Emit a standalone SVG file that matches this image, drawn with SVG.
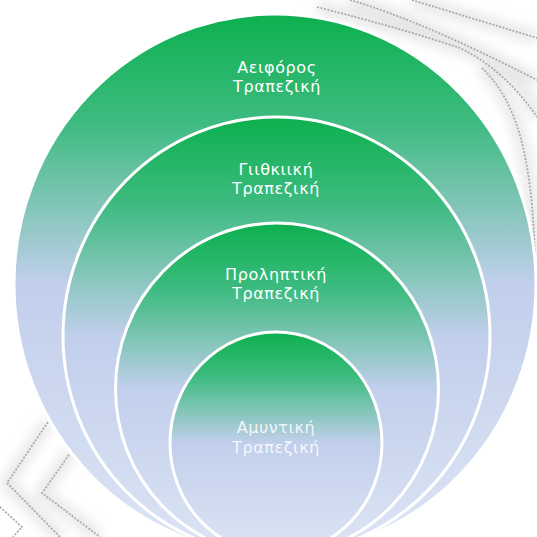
<svg xmlns="http://www.w3.org/2000/svg" width="537" height="537" viewBox="0 0 537 537">
  <defs>
    <linearGradient id="ringFill" x1="0" y1="0" x2="0" y2="1">
      <stop offset="0" stop-color="#0cb04e"/>
      <stop offset="0.2" stop-color="#3dbb80"/>
      <stop offset="0.5" stop-color="#c2cfec"/>
      <stop offset="1" stop-color="#dde5f4"/>
    </linearGradient>
    <filter id="soft" x="-10%" y="-10%" width="120%" height="120%">
      <feGaussianBlur stdDeviation="6"/>
    </filter>
    <style>
      .ring { fill: url(#ringFill); stroke: #ffffff; stroke-width: 3; }
      .label { font-family: "DejaVu Sans", "Noto Sans", sans-serif; font-size: 16px; letter-spacing: 0.6px; fill: #ffffff; text-anchor: middle; }
      .deco { fill: none; stroke: #ababab; stroke-width: 1.8; stroke-dasharray: 2 1.5; }
      .decoShade { fill: none; stroke: #e6e6e6; stroke-width: 12; filter: url(#soft); }
    </style>
  </defs>

  <rect width="537" height="537" fill="#ffffff"/>

  <!-- background ornament: dotted curved strokes -->
  <g id="ornament">
    <path class="decoShade" d="M317 7 Q400 28 460 48 T537 117 M350 0 Q420 20 537 80 M412 0 L537 38 M482 68 C515 100 532 150 535 260"/>
    <path class="decoShade" d="M48 422 L7 483 L60 537 M71 452 L42 493 L100 537"/>
    <path class="deco" d="M317 7 Q400 28 460 48 Q505 70 537 117"/>
    <path class="deco" d="M350 0 Q420 20 537 80"/>
    <path class="deco" d="M412 0 L537 38"/>
    <path class="deco" d="M482 68 C515 100 532 150 535 260"/>
    <path class="deco" d="M48 422 L7 483 L60 537"/>
    <path class="deco" d="M71 452 L42 493 L100 537"/>
    <path class="deco" d="M0 507 L22 527 L13 537"/>
  </g>

  <!-- nested target rings, outermost first; all share the same bottom -->
  <g id="ring-sustainable">
    <ellipse class="ring" cx="275" cy="284" rx="261" ry="270"/>
    <text class="label" x="277" y="73">Αειφόρος</text>
    <text class="label" x="277" y="92">Τραπεζική</text>
  </g>

  <g id="ring-ethical">
    <ellipse class="ring" cx="276.5" cy="336" rx="213.5" ry="219"/>
    <text class="label" x="276" y="175">Γιιθκιική</text>
    <text class="label" x="276" y="194">Τραπεζική</text>
  </g>

  <g id="ring-preventive">
    <ellipse class="ring" cx="277" cy="389" rx="161.5" ry="166"/>
    <text class="label" x="276" y="280">Προληπτική</text>
    <text class="label" x="276" y="299">Τραπεζική</text>
  </g>

  <g id="ring-defensive">
    <ellipse class="ring" cx="276" cy="443" rx="106" ry="111"/>
    <text class="label" x="276" y="433" fill-opacity="0.85">Αμυντική</text>
    <text class="label" x="276" y="453" fill-opacity="0.85">Τραπεζική</text>
  </g>

  <g id="connectors"/>
</svg>
